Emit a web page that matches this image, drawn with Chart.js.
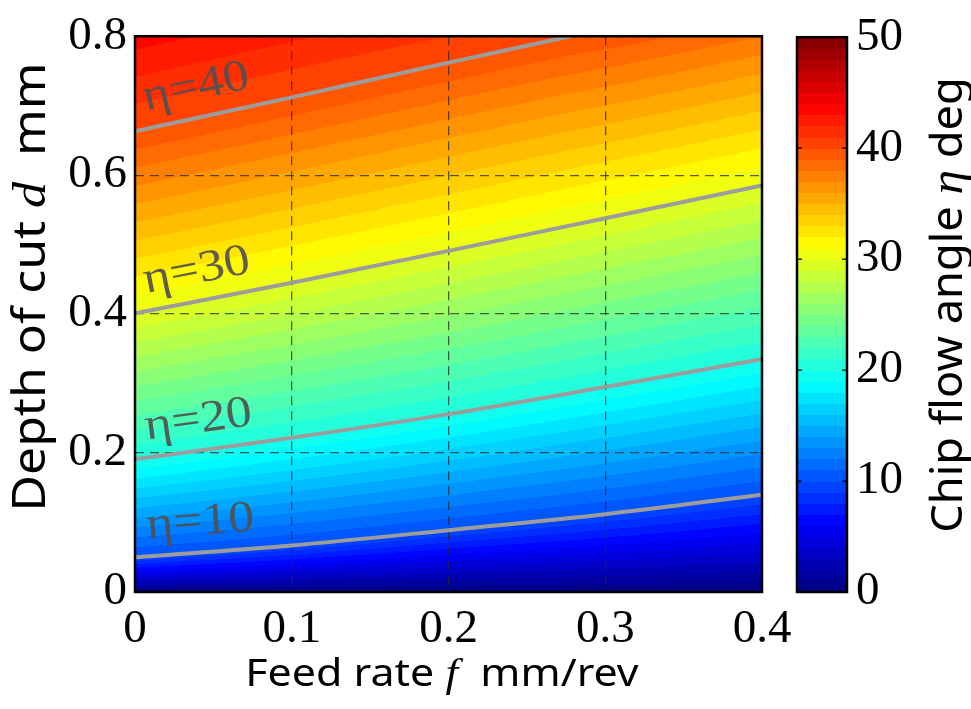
<!DOCTYPE html>
<html>
<head>
<meta charset="utf-8">
<script src="https://cdn.jsdelivr.net/npm/chart.js@4.4.1/dist/chart.umd.min.js"></script>
<style>
  html, body { margin: 0; padding: 0; background: #fff; }
  #wrap { position: relative; width: 971px; height: 709px; }
  #wrap canvas { position: absolute; left: 0; top: 0; }
</style>
</head>
<body>
<div id="wrap">
  <canvas id="main" width="971" height="709"></canvas>
  <canvas id="bar" width="971" height="709"></canvas>
</div>
<script>
// Feed-rate columns (mm/rev) at which each contour's depth is given
const feedRates = [0, 0.1, 0.2, 0.3, 0.4];
// Contour levels of the chip flow angle (deg)
const levels = [10, 20, 30, 40];
// Depth of cut (mm) along each contour
const depth10 = [0.050, 0.067, 0.089, 0.112, 0.140];
const depth20 = [0.191, 0.222, 0.256, 0.295, 0.335];
const depth30 = [0.401, 0.445, 0.491, 0.538, 0.585];
// The 40 deg contour runs out through the top edge
const feed40  = [0, 0.1, 0.2, 0.278];
const depth40 = [0.663, 0.712, 0.762, 0.800];
// Chip flow angle (deg) along the top edge (d = 0.8) and the bottom edge (d = 0)
const angleTop    = [43.5, 42.2, 41.0, 39.7, 38.0];
const angleBottom = [0, 0, 0, 0, 0];
// Axis ticks
const xTicks = [0, 0.1, 0.2, 0.3, 0.4];
const yTicks = [0, 0.2, 0.4, 0.6, 0.8];
const barTicks = [0, 10, 20, 30, 40, 50];
const angleMin = 0, angleMax = 50;

const contourFeeds  = [feedRates, feedRates, feedRates, feed40];
const contourDepths = [depth10, depth20, depth30, depth40];

const SERIF = '"Liberation Serif", "Times New Roman", serif';
const SANS = '"Noto Sans", "DejaVu Sans", sans-serif';

// MATLAB-style jet colour map, v in [0, 1]
function jet(v) {
  const c = t => Math.max(0, Math.min(1, t));
  return [c(1.5 - Math.abs(4 * v - 3)), c(1.5 - Math.abs(4 * v - 2)), c(1.5 - Math.abs(4 * v - 1))]
    .map(x => Math.round(x * 255));
}
// 1-degree filled bands, coloured at the band centre
function bandColor(a) {
  const k = Math.max(0, Math.min(angleMax - 1, Math.floor(a)));
  return jet((k + 0.5 - angleMin) / (angleMax - angleMin));
}

// Monotone cubic (Fritsch-Carlson) interpolant, same scheme as Chart.js 'monotone'
function monotone(xs, ys) {
  const n = xs.length, dx = [], m = [], t = new Array(n);
  for (let i = 0; i < n - 1; i++) { dx[i] = xs[i + 1] - xs[i]; m[i] = (ys[i + 1] - ys[i]) / dx[i]; }
  t[0] = m[0]; t[n - 1] = m[n - 2];
  for (let i = 1; i < n - 1; i++) t[i] = (m[i - 1] * m[i] <= 0) ? 0 : (m[i - 1] + m[i]) / 2;
  for (let i = 0; i < n - 1; i++) {
    if (m[i] === 0) { t[i] = t[i + 1] = 0; continue; }
    const a = t[i] / m[i], b = t[i + 1] / m[i], s = a * a + b * b;
    if (s > 9) { const k = 3 / Math.sqrt(s); t[i] = k * a * m[i]; t[i + 1] = k * b * m[i]; }
  }
  return x => {
    let i = 0;
    if (x >= xs[n - 1]) i = n - 2; else while (i < n - 2 && x > xs[i + 1]) i++;
    const h = dx[i], u = (x - xs[i]) / h, u2 = u * u, u3 = u2 * u;
    return (2 * u3 - 3 * u2 + 1) * ys[i] + (u3 - 2 * u2 + u) * h * t[i]
         + (-2 * u3 + 3 * u2) * ys[i + 1] + (u3 - u2) * h * t[i + 1];
  };
}
// Piecewise-linear lookup (xs ascending)
function linear(xs, ys, x) {
  const n = xs.length;
  if (x <= xs[0]) return ys[0];
  if (x >= xs[n - 1]) return ys[n - 1];
  let i = 0;
  while (x > xs[i + 1]) i++;
  return ys[i] + (ys[i + 1] - ys[i]) * (x - xs[i]) / (xs[i + 1] - xs[i]);
}

const contourFns = contourDepths.map((ds, i) => monotone(contourFeeds[i], ds));
const topFn = monotone(feedRates, angleTop);
const bottomFn = monotone(feedRates, angleBottom);

// Filled contour field, rebuilt from the contour lines column by column
const fieldPlugin = {
  id: 'field',
  beforeDraw(chart) {
    const { ctx, chartArea: ca, scales: { x, y } } = chart;
    const L = Math.round(ca.left), T = Math.round(ca.top);
    const W = Math.round(ca.right) - L, H = Math.round(ca.bottom) - T;
    const off = document.createElement('canvas');
    off.width = W; off.height = H;
    const octx = off.getContext('2d');
    const img = octx.createImageData(W, H);
    const dTop = y.max;
    for (let i = 0; i < W; i++) {
      const f = x.getValueForPixel(L + i + 0.5);
      const ds = [y.min], as = [bottomFn(f)];
      levels.forEach((lv, k) => {
        const fs = contourFeeds[k];
        if (f <= fs[fs.length - 1]) {
          const d = contourFns[k](f);
          if (d < dTop && d > ds[ds.length - 1]) { ds.push(d); as.push(lv); }
        }
      });
      ds.push(dTop); as.push(topFn(f));
      for (let j = 0; j < H; j++) {
        const d = y.getValueForPixel(T + j + 0.5);
        const [r, g, b] = bandColor(linear(ds, as, d));
        const p = (j * W + i) * 4;
        img.data[p] = r; img.data[p + 1] = g; img.data[p + 2] = b; img.data[p + 3] = 255;
      }
    }
    octx.putImageData(img, 0, 0);
    ctx.drawImage(off, L, T);
  }
};

// Draw a run of text pieces in mixed fonts, centred on (cx, cy) at the baseline
function drawRich(ctx, pieces, cx, cy, rot, sx) {
  ctx.save();
  ctx.translate(cx, cy);
  ctx.rotate(rot || 0);
  ctx.scale(sx || 1, 1);
  ctx.textBaseline = 'alphabetic';
  ctx.textAlign = 'left';
  ctx.fillStyle = '#000';
  let total = 0;
  pieces.forEach(p => { ctx.font = p.font; p.w = ctx.measureText(p.text).width; total += p.w; });
  let xPos = -total / 2;
  pieces.forEach(p => { ctx.font = p.font; ctx.fillText(p.text, xPos, 0); xPos += p.w; });
  ctx.restore();
}

// Contour labels, frame and axis titles
const decorPlugin = {
  id: 'decor',
  afterDatasetsDraw(chart) {
    const { ctx, scales: { x, y } } = chart;
    const labelFeed = 0.043;
    levels.forEach((lv, k) => {
      const fn = contourFns[k];
      const px = x.getPixelForValue(labelFeed), py = y.getPixelForValue(fn(labelFeed));
      const px2 = x.getPixelForValue(labelFeed + 0.01), py2 = y.getPixelForValue(fn(labelFeed + 0.01));
      const ang = Math.atan2(py2 - py, px2 - px);
      ctx.save();
      ctx.translate(px, py);
      ctx.rotate(ang);
      ctx.scale(1.15, 1);
      ctx.font = '45px ' + SERIF;
      ctx.fillStyle = 'rgba(80,80,80,0.92)';
      ctx.textAlign = 'center';
      ctx.textBaseline = 'alphabetic';
      ctx.fillText('η=' + lv, 0, -18);
      ctx.restore();
    });
  },
  afterDraw(chart) {
    const { ctx, chartArea: ca } = chart;
    ctx.save();
    ctx.strokeStyle = '#000';
    ctx.lineWidth = 2.5;
    ctx.strokeRect(ca.left, ca.top, ca.right - ca.left, ca.bottom - ca.top);
    ctx.restore();
    drawRich(ctx, [
      { text: 'Feed rate ', font: '38px ' + SANS },
      { text: 'f', font: 'italic 40px ' + SERIF },
      { text: '  mm/rev', font: '38px ' + SANS }
    ], 442, 686, 0, 1.13);
    drawRich(ctx, [
      { text: 'Depth of cut ', font: '45px ' + SANS },
      { text: 'd', font: 'italic 47px ' + SERIF },
      { text: '  mm', font: '45px ' + SANS }
    ], 45, 287, -Math.PI / 2, 1.11);
  }
};

new Chart(document.getElementById('main'), {
  type: 'line',
  data: {
    datasets: levels.map((lv, k) => ({
      label: 'η=' + lv,
      data: contourFeeds[k].map((f, i) => ({ x: f, y: contourDepths[k][i] })),
      borderColor: '#9c9c9c',
      borderWidth: 4,
      pointRadius: 0,
      cubicInterpolationMode: 'monotone',
      fill: false
    }))
  },
  options: {
    responsive: false,
    animation: false,
    devicePixelRatio: 1,
    layout: { padding: { left: 0, top: 30, right: 209, bottom: 0 } },
    plugins: { legend: { display: false }, tooltip: { enabled: false } },
    scales: {
      x: {
        type: 'linear', min: 0, max: 0.4,
        afterBuildTicks: s => { s.ticks = xTicks.map(v => ({ value: v })); },
        afterFit: s => { s.height = 117; },
        ticks: { font: { family: SERIF, size: 47 }, color: '#000', padding: 9, maxRotation: 0,
                 callback: v => String(v) },
        grid: { color: 'rgba(40,40,40,0.75)', lineWidth: 1.3, drawTicks: false },
        border: { display: false, dash: [9, 6] }
      },
      y: {
        type: 'linear', min: 0, max: 0.8,
        afterBuildTicks: s => { s.ticks = yTicks.map(v => ({ value: v })); },
        afterFit: s => { s.width = 135; },
        ticks: { font: { family: SERIF, size: 47 }, color: '#000', padding: 8,
                 callback: v => String(v) },
        grid: { color: 'rgba(40,40,40,0.75)', lineWidth: 1.3, drawTicks: false },
        border: { display: false, dash: [9, 6] }
      }
    }
  },
  plugins: [fieldPlugin, decorPlugin]
});

// Colour bar
const barPlugin = {
  id: 'colorbar',
  beforeDatasetsDraw(chart) {
    const { ctx, chartArea: ca, scales: { y } } = chart;
    for (let k = angleMin; k < angleMax; k++) {
      const [r, g, b] = bandColor(k + 0.5);
      const y0 = y.getPixelForValue(k + 1), y1 = y.getPixelForValue(k);
      ctx.fillStyle = `rgb(${r},${g},${b})`;
      ctx.fillRect(ca.left, Math.floor(y0), ca.right - ca.left, Math.ceil(y1) - Math.floor(y0));
    }
  },
  afterDraw(chart) {
    const { ctx, chartArea: ca, scales: { y } } = chart;
    ctx.save();
    ctx.strokeStyle = '#000';
    ctx.lineWidth = 1.2;
    barTicks.slice(1, -1).forEach(v => {
      const py = y.getPixelForValue(v);
      ctx.beginPath();
      ctx.moveTo(ca.left, py); ctx.lineTo(ca.left + 5, py);
      ctx.moveTo(ca.right, py); ctx.lineTo(ca.right - 5, py);
      ctx.stroke();
    });
    ctx.lineWidth = 2.5;
    ctx.strokeRect(ca.left, ca.top, ca.right - ca.left, ca.bottom - ca.top);
    ctx.restore();
    drawRich(ctx, [
      { text: 'Chip flow angle ', font: '43px ' + SANS },
      { text: 'η', font: 'italic 47px ' + SERIF },
      { text: ' deg', font: '43px ' + SANS }
    ], 962, 305, -Math.PI / 2, 1.05);
  }
};

new Chart(document.getElementById('bar'), {
  type: 'scatter',
  data: { datasets: [{ data: [] }] },
  options: {
    responsive: false,
    animation: false,
    devicePixelRatio: 1,
    layout: { padding: { left: 797, top: 30, right: 0, bottom: 117 } },
    plugins: { legend: { display: false }, tooltip: { enabled: false } },
    scales: {
      x: { display: false, min: 0, max: 1 },
      y: {
        position: 'right', min: angleMin, max: angleMax,
        afterBuildTicks: s => { s.ticks = barTicks.map(v => ({ value: v })); },
        afterFit: s => { s.width = 124; },
        ticks: { font: { family: SERIF, size: 47 }, color: '#000', padding: 9 },
        grid: { display: false, drawTicks: false },
        border: { display: false }
      }
    }
  },
  plugins: [barPlugin]
});
</script>
</body>
</html>
